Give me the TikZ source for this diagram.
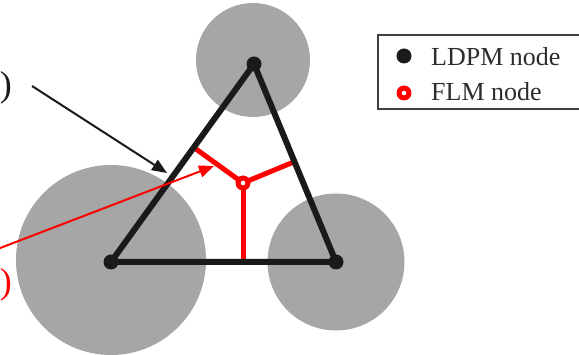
\documentclass[tikz,border=0pt]{standalone}
\usepackage{fontspec}
\setmainfont{Liberation Serif}
\usetikzlibrary{arrows.meta,calc}
\definecolor{blk}{HTML}{1A1A1A}
\definecolor{gry}{HTML}{A6A6A6}
\definecolor{boxc}{HTML}{404040}
\tikzset{
  particle/.style={fill=gry,draw=none},
  edgeline/.style={draw=blk,line width=6pt,line join=round},
  flmline/.style={draw=red,line width=5pt},
  ldpmdot/.style={fill=blk},
  pointer/.style={line width=2pt,-{Triangle[length=15pt,width=12pt]}},
  legtext/.style={font=\fontsize{26}{30}\selectfont,anchor=base west,inner sep=0pt,text=boxc!70!black},
  paren/.style={font=\fontsize{36}{40}\selectfont,anchor=base east,inner sep=0pt}
}
\begin{document}
\begin{tikzpicture}[x=1pt,y=-1pt]
\useasboundingbox (0,0) rectangle (579,355);
% particles
\fill[particle] (253,60) circle (57);
\fill[particle] (111,260) circle (95);
\fill[particle] (336,262) circle (68.5);
% node positions
\coordinate (n1) at (254,64);
\coordinate (n2) at (111,262);
\coordinate (n3) at (336,262);
\coordinate (f) at (243,183);
% FLM facets
\draw[flmline] (f) -- ($(n1)!(f)!(n2)$);
\draw[flmline] (f) -- ($(n1)!(f)!(n3)$);
\draw[flmline] (f) -- ($(n2)!(f)!(n3)$);
% triangle
\draw[edgeline] (n1) -- (n2) -- (n3) -- cycle;
% nodes
\foreach \p in {n1,n2,n3} \fill[ldpmdot] (\p) circle (7.5);
\fill[red] (f) circle (7.5);
\fill[white] (f) circle (2.3);
% labels (cut at left in the reference)
\node[paren,text=blk] (lblA) at (12,97) {)};
\node[paren,text=red] (lblB) at (12,294) {)};
% pointers
\coordinate (sA) at (32,86);
\coordinate (tA) at (167,173);
\coordinate (sB) at (-5,250);
\coordinate (tB) at (214,166);
\draw[pointer,blk] (sA) -- (tA);
\draw[pointer,red] (sB) -- (tB);
% legend
\draw[boxc,line width=2pt] (585,35) -- (378,35) -- (378,109) -- (585,109);
\fill[blk] (404,56) circle (7.5);
\fill[red] (404,93) circle (7.5);
\fill[white] (404,93) circle (2.3);
\node[legtext] (legA) at (431,66) {LDPM node};
\node[legtext] (legB) at (431,101) {FLM node};
\end{tikzpicture}
\end{document}
